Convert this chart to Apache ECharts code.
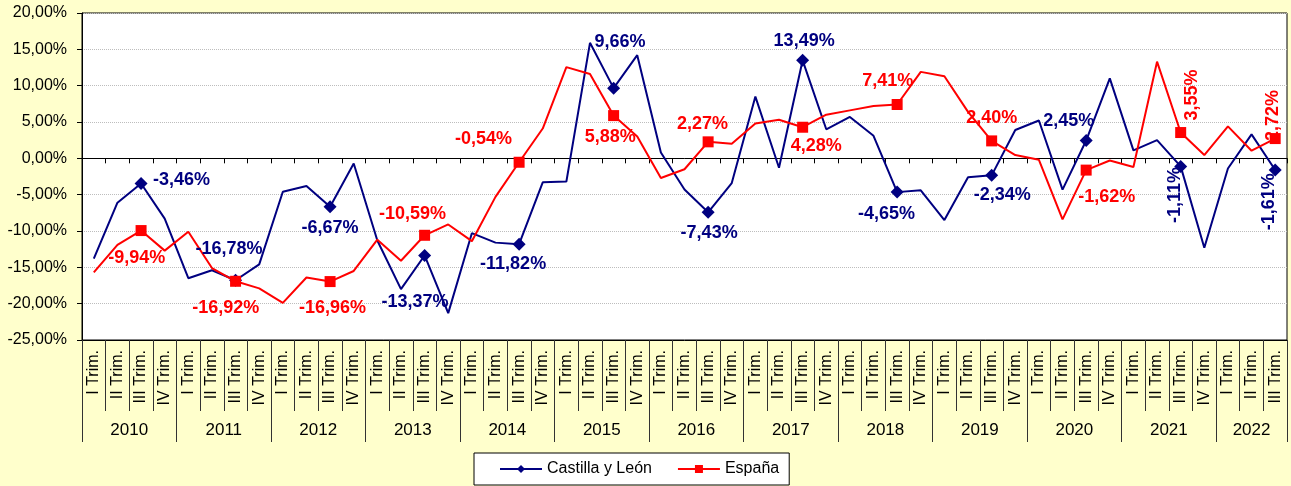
<!DOCTYPE html>
<html><head><meta charset="utf-8">
<script src="https://cdn.jsdelivr.net/npm/echarts@6/dist/echarts.min.js"></script>
<style>html,body{margin:0;padding:0;background:#FFFFCC}#c{width:1291px;height:486px}</style>
</head><body><div id="c"></div>
<script>
// ---- data ----
const years = ['2010','2011','2012','2013','2014','2015','2016','2017','2018','2019','2020','2021','2022'];
const quartersPerYear = [4,4,4,4,4,4,4,4,4,4,4,4,3];
const quarterNames = ['I Trim.','II Trim.','III Trim.','IV Trim.'];
const castillaLeon = [-13.8,-6.1,-3.46,-8.3,-16.5,-15.4,-16.78,-14.6,-4.6,-3.8,-6.67,
  -0.7,-11.3,-18.0,-13.37,-21.3,-10.3,-11.6,-11.82,-3.3,-3.2,15.9,9.66,14.2,
  0.8,-4.3,-7.43,-3.4,8.5,-1.3,13.49,4.0,5.7,3.1,-4.65,-4.4,-8.5,-2.6,
  -2.34,3.9,5.2,-4.3,2.45,11.0,1.1,2.5,-1.11,-12.3,-1.4,3.3,-1.61];
const espana = [-15.7,-11.9,-9.94,-12.7,-10.1,-15.1,-16.92,-17.9,-19.9,-16.4,-16.96,
  -15.5,-11.2,-14.1,-10.59,-9.1,-11.4,-5.3,-0.54,4.1,12.55,11.6,5.88,3.0,
  -2.7,-1.5,2.27,2.0,4.8,5.3,4.28,6.0,6.6,7.2,7.41,11.9,11.3,6.4,
  2.40,0.45,-0.2,-8.4,-1.62,-0.3,-1.2,13.3,3.55,0.45,4.4,1.05,2.72];
const yMin = -25, yMax = 20, yStep = 5;

// ---- layout / style (label placement, screen offsets dx,dy; r = rotated) ----
const blueLabelPos = {2:[40.5,-3.4],6:[-6.6,-31],10:[0,21],14:[-9.6,46.5],18:[-6,20.3],22:[6.3,-46.6],
  26:[1,21],30:[1.5,-19],34:[-10.6,22.3],38:[10.7,19.7],42:[-17.4,-19.8],46:[-6,28.6,1],50:[-6.4,31.7,1]};
const redLabelPos = {2:[-4.3,27.3],6:[-9.8,26.3],10:[2.4,26],14:[-12,-21],18:[-35.5,-23],22:[-3.4,21],
  26:[-5.7,-17.5],30:[13.7,18.4],34:[-9.5,-23.6],38:[0,-22.6],42:[20.6,26.7],46:[11.6,-37.6,1],50:[-2,-23,1]};

const FONT = "'Liberation Sans', Arial, sans-serif";
const categories = [];
const yearAxisData = [];
years.forEach((y, k) => {
  for (let q = 0; q < quartersPerYear[k]; q++) categories.push(quarterNames[q]);
});
for (let j = 0; j <= categories.length * 2; j++) yearAxisData.push('');
const yearBoundaries = [];
let start = 0;
years.forEach((y, k) => {
  yearBoundaries.push(2 * start);
  yearAxisData[2 * start + quartersPerYear[k]] = y;
  start += quartersPerYear[k];
});
yearBoundaries.push(2 * start);

const fmt = v => v.toFixed(2).replace('.', ',') + '%';

function buildData(values, labelPos, color) {
  return values.map((v, i) => {
    const item = { value: v };
    if (categories[i] !== 'III Trim.') item.symbol = 'none';
    const lp = labelPos[i];
    if (lp) {
      const rot = !!lp[2];
      item.label = {
        show: true, position: 'inside', color: color,
        offset: rot ? [-lp[1], lp[0]] : [lp[0], lp[1]],
        rotate: rot ? 90 : 0,
        align: 'center', verticalAlign: 'middle'
      };
    }
    return item;
  });
}

const chart = echarts.init(document.getElementById('c'));
chart.setOption({
  backgroundColor: '#FFFFCC',
  animation: false,
  textStyle: { fontFamily: FONT },
  grid: { left: 82, right: 4, top: 13, bottom: 146, show: true, backgroundColor: '#fff', borderColor: '#000', borderWidth: 1 },
  legend: {
    left: 474, top: 453,
    padding: [8, 10, 8, 25],
    itemWidth: 42, itemHeight: 10, itemGap: 25,
    backgroundColor: '#fff', borderColor: '#000', borderWidth: 1,
    textStyle: { fontSize: 16, color: '#000', fontFamily: FONT },
    data: ['Castilla y León', 'España']
  },
  xAxis: [
    { type: 'category', data: categories, position: 'bottom',
      axisLine: { onZero: true, lineStyle: { color: '#000', width: 1 } },
      axisTick: { show: true, interval: 0, length: 5, lineStyle: { color: '#000' } },
      axisLabel: { show: false }, splitLine: { show: false } },
    { type: 'category', data: categories, position: 'bottom',
      axisLine: { onZero: false, lineStyle: { color: '#000' } },
      axisTick: { show: true, interval: 0, length: 71, lineStyle: { color: '#333' } },
      axisLabel: { show: true, interval: 0, rotate: 90, margin: 10, fontSize: 16, color: '#000', fontFamily: FONT },
      splitLine: { show: false } },
    { type: 'category', data: yearAxisData, position: 'bottom', boundaryGap: false,
      axisLine: { show: false, onZero: false },
      axisTick: { show: true, length: 102, lineStyle: { color: '#333' },
        interval: (i) => yearBoundaries.indexOf(i) >= 0 },
      axisLabel: { show: true, margin: 82, fontSize: 17, color: '#000', fontFamily: FONT,
        interval: (i, v) => v !== '' },
      splitLine: { show: false } }
  ],
  yAxis: {
    type: 'value', min: yMin, max: yMax, interval: yStep,
    axisLine: { show: true, lineStyle: { color: '#000' } },
    axisTick: { show: true, length: 5, lineStyle: { color: '#000' } },
    axisLabel: { margin: 15, fontSize: 16, color: '#000', fontFamily: FONT,
      formatter: v => v.toFixed(2).replace('.', ',') + '%' },
    splitLine: { show: true, lineStyle: { color: '#bdbdbd', type: 'dotted', width: 1 } }
  },
  series: [
    { name: 'Castilla y León', type: 'line', xAxisIndex: 0,
      symbol: 'diamond', symbolSize: 13, showSymbol: true, showAllSymbol: true,
      lineStyle: { color: '#000080', width: 2 }, itemStyle: { color: '#000080' },
      label: { show: false, fontSize: 18, fontWeight: 'bold', fontFamily: FONT, formatter: p => fmt(p.value) },
      data: buildData(castillaLeon, blueLabelPos, '#000080') },
    { name: 'España', type: 'line', xAxisIndex: 0,
      symbol: 'rect', symbolSize: 11, showSymbol: true, showAllSymbol: true,
      lineStyle: { color: '#ff0000', width: 2 }, itemStyle: { color: '#ff0000' },
      label: { show: false, fontSize: 18, fontWeight: 'bold', fontFamily: FONT, formatter: p => fmt(p.value) },
      data: buildData(espana, redLabelPos, '#ff0000') }
  ]
});
</script></body></html>
